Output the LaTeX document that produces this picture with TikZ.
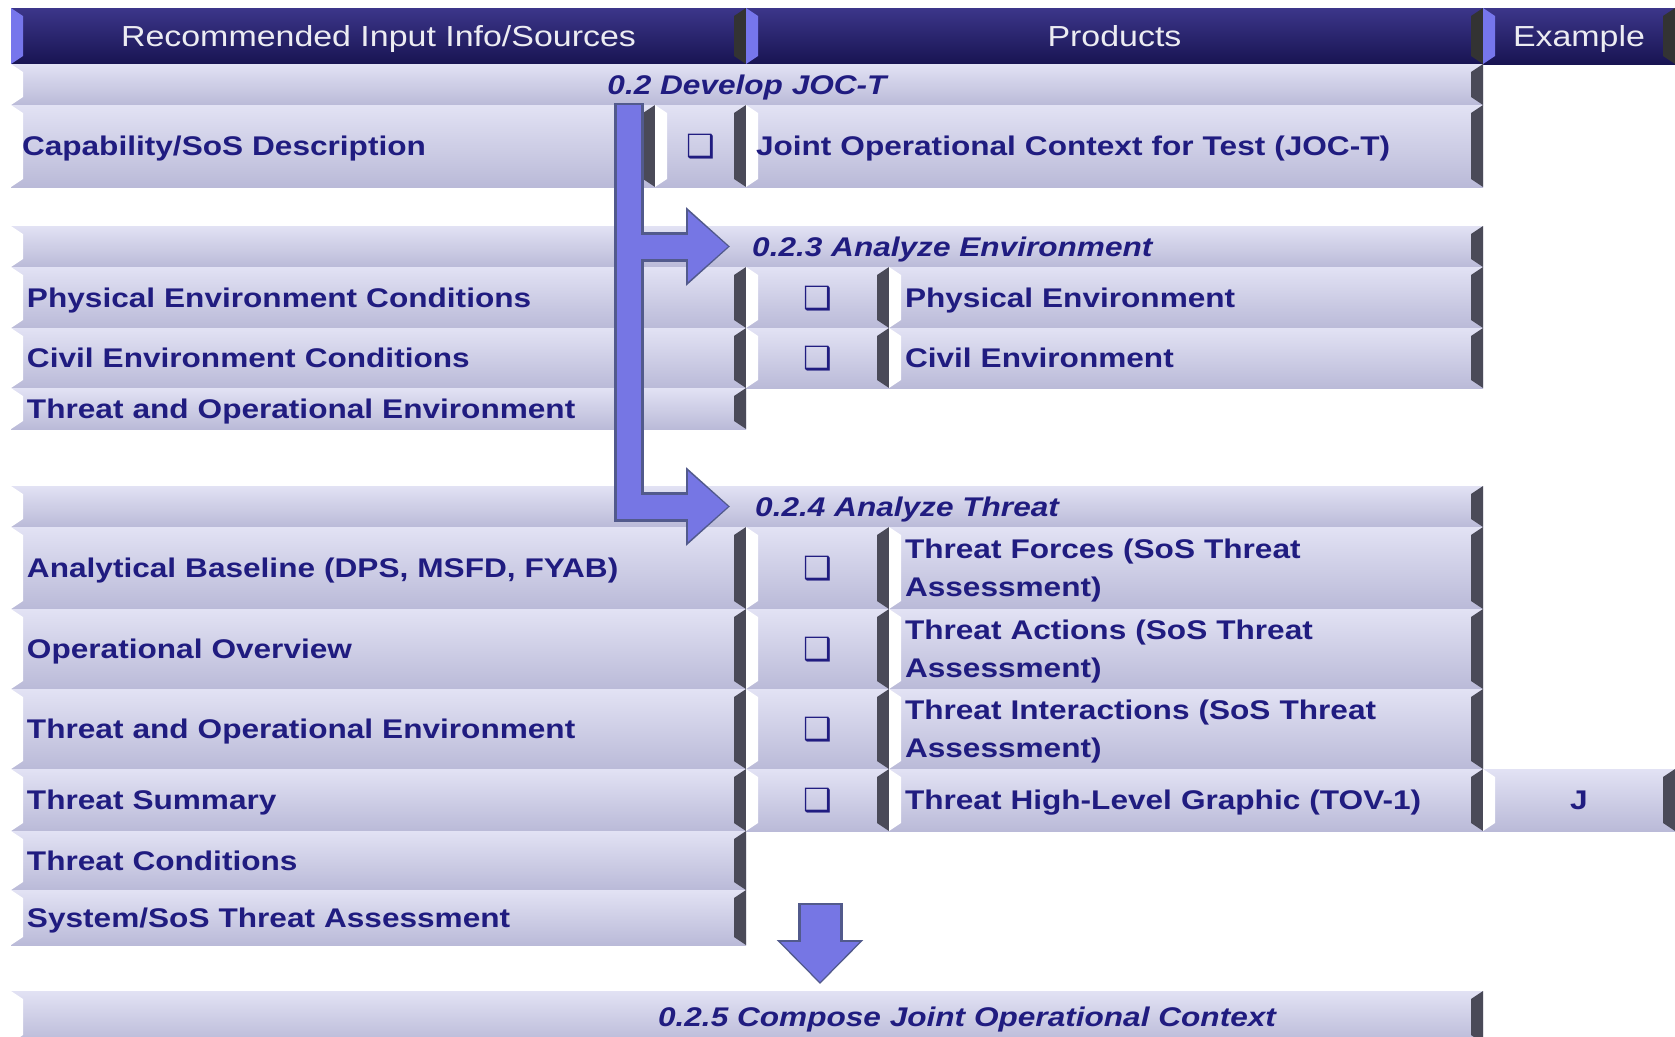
\documentclass[tikz,border=0pt]{standalone}
\usepackage{fontspec}
\setmainfont{Liberation Sans}[FakeStretch=1.17]
\newfontfamily\symfont{DejaVu Sans}
\usetikzlibrary{arrows.meta,positioning,calc}
\definecolor{navy}{RGB}{32,28,128}
\definecolor{hdtop}{RGB}{60,54,138}
\definecolor{hdbot}{RGB}{24,20,82}
\definecolor{hdlite}{RGB}{118,118,236}
\definecolor{hdtext}{RGB}{236,236,242}
\definecolor{lavtop}{RGB}{226,226,244}
\definecolor{lavmid}{RGB}{204,204,231}
\definecolor{lavbot}{RGB}{186,186,216}
\definecolor{bevdark}{RGB}{74,74,88}
\definecolor{arrfill}{RGB}{118,118,228}
\definecolor{arredge}{RGB}{82,90,140}
\newcommand{\chk}{{\symfont\fontsize{32}{32}\selectfont ❑}}
\tikzset{
  bevel/.style 2 args = {path picture={
      \fill[#1] (path picture bounding box.north west)
        -- ([shift={(12pt,-8pt)}]path picture bounding box.north west)
        -- ([shift={(12pt,8pt)}]path picture bounding box.south west)
        -- (path picture bounding box.south west) -- cycle;
      \fill[#2] (path picture bounding box.north east)
        -- ([shift={(-12pt,-8pt)}]path picture bounding box.north east)
        -- ([shift={(-12pt,8pt)}]path picture bounding box.south east)
        -- (path picture bounding box.south east) -- cycle;}},
  cell/.style   = {rectangle, inner xsep=16pt, inner ysep=0pt, outer sep=0pt,
                   anchor=north west, top color=lavtop, middle color=lavmid,
                   bottom color=lavbot, bevel={white}{bevdark}, text=navy,
                   font=\bfseries\fontsize{27}{38}\selectfont},
  txtcell/.style= {cell, align=left, text depth=0pt},
  twocell/.style= {cell, align=left, text depth=38pt},
  chkcell/.style= {cell, align=center, text depth=0pt},
  secrow/.style = {cell, text depth=0pt,
                   font=\bfseries\itshape\fontsize{27}{32}\selectfont},
  ttl/.style    = {anchor=west, inner sep=4pt, text=navy, text depth=0pt,
                   font=\bfseries\itshape\fontsize{27}{32}\selectfont},
  hdr/.style    = {rectangle, inner sep=0pt, outer sep=0pt, anchor=north west,
                   top color=hdtop, bottom color=hdbot, bevel={hdlite}{black!80},
                   text=hdtext, text depth=0pt, font=\fontsize{29}{34}\selectfont,
                   minimum height=56},
  arrback/.style= {draw=arredge, line width=30pt,
                   -{Triangle[length=44pt, width=76pt]}},
  arrfront/.style={draw=arrfill, line width=24pt,
                   -{Triangle[length=40pt, width=68pt]}}
}
\begin{document}
\begin{tikzpicture}[x=1pt, y=-1pt]
\useasboundingbox (0,0) rectangle (1675,1036);

% column heads
\node[hdr, minimum width=735] (hinp) at (11,8) {Recommended Input Info/Sources};
\node[hdr, minimum width=737] (hprod) at (746,8) {Products};
\node[hdr, minimum width=192] (hex) at (1483,8) {Example};

% 0.2
\node[secrow, minimum width=1472, minimum height=41] (rdev) at (11,64) {0.2 Develop JOC-T};
\node[txtcell, inner xsep=11pt, text width=622, minimum width=644, minimum height=82] (capa)
  at (11,105) {Capability/SoS Description};
\node[chkcell, minimum width=91, minimum height=82] (capchk) at (655,105) {\chk};
\node[txtcell, inner xsep=10pt, text width=717, minimum width=737, minimum height=82] (joct)
  at (746,105) {Joint Operational Context for Test (JOC-T)};

% 0.2.3
\node[cell, minimum width=1472, minimum height=41] (renv) at (11,226) {};
\node[ttl] (tenv) at (748,246.5) {0.2.3 Analyze Environment};
\node[txtcell, text width=703, minimum width=735, minimum height=61] (phyin) at (11,267)
  {Physical Environment Conditions};
\node[chkcell, minimum width=143, minimum height=61] (phychk) at (746,267) {\chk};
\node[txtcell, text width=562, minimum width=594, minimum height=61] (phyout) at (889,267)
  {Physical Environment};
\node[txtcell, text width=703, minimum width=735, minimum height=60] (civin) at (11,328)
  {Civil Environment Conditions};
\node[chkcell, minimum width=143, minimum height=60] (civchk) at (746,328) {\chk};
\node[txtcell, text width=562, minimum width=594, minimum height=60] (civout) at (889,328)
  {Civil Environment};
\node[txtcell, text width=703, minimum width=735, minimum height=41] (toein) at (11,388)
  {Threat and Operational Environment};

% 0.2.4
\node[cell, minimum width=1472, minimum height=41] (rthr) at (11,486) {};
\node[ttl] (tthr) at (751,506.5) {0.2.4 Analyze Threat};
\node[txtcell, text width=703, minimum width=735, minimum height=82] (anain) at (11,527)
  {Analytical Baseline (DPS, MSFD, FYAB)};
\node[chkcell, minimum width=143, minimum height=82] (anachk) at (746,527) {\chk};
\node[twocell, text width=562, minimum width=594, minimum height=82] (anaout) at (889,527)
  {Threat Forces (SoS Threat\\Assessment)};
\node[txtcell, text width=703, minimum width=735, minimum height=80] (opin) at (11,609)
  {Operational Overview};
\node[chkcell, minimum width=143, minimum height=80] (opchk) at (746,609) {\chk};
\node[twocell, text width=562, minimum width=594, minimum height=80] (opout) at (889,609)
  {Threat Actions (SoS Threat\\Assessment)};
\node[txtcell, text width=703, minimum width=735, minimum height=80] (toe2in) at (11,689)
  {Threat and Operational Environment};
\node[chkcell, minimum width=143, minimum height=80] (toe2chk) at (746,689) {\chk};
\node[twocell, text width=562, minimum width=594, minimum height=80] (toe2out) at (889,689)
  {Threat Interactions (SoS Threat\\Assessment)};
\node[txtcell, text width=703, minimum width=735, minimum height=62] (sumin) at (11,769)
  {Threat Summary};
\node[chkcell, minimum width=143, minimum height=62] (sumchk) at (746,769) {\chk};
\node[txtcell, text width=562, minimum width=594, minimum height=62] (sumout) at (889,769)
  {Threat High-Level Graphic (TOV-1)};
\node[chkcell, minimum width=192, minimum height=62] (sumex) at (1483,769) {J};
\node[txtcell, text width=703, minimum width=735, minimum height=59] (condin) at (11,831)
  {Threat Conditions};
\node[txtcell, text width=703, minimum width=735, minimum height=55] (sysin) at (11,890)
  {System/SoS Threat Assessment};

% 0.2.5
\node[cell, minimum width=1472, minimum height=52] (rcomp) at (11,991) {};
\node[ttl, anchor=center] (tcomp) at (967,1017) {0.2.5 Compose Joint Operational Context};

% block arrows
\coordinate (shtop) at (629,103);
\coordinate (dtop) at (820,903);
\draw[arrback] (shtop) |- ([xshift=-18pt]tenv.west);
\draw[arrback] (shtop) |- ([xshift=-21pt]tthr.west);
\draw[arrfront] ([yshift=-2pt]shtop) |- ([xshift=-20pt]tenv.west);
\draw[arrfront] ([yshift=-2pt]shtop) |- ([xshift=-23pt]tthr.west);
\draw[arrback, line width=45pt, -{Triangle[length=44pt, width=84pt]}]
  (dtop) -- ($(rcomp.north -| dtop)+(0,-7)$);
\draw[arrfront, line width=39pt, -{Triangle[length=40pt, width=76pt]}]
  ([yshift=-2pt]dtop) -- ($(rcomp.north -| dtop)+(0,-9)$);
\end{tikzpicture}
\end{document}
